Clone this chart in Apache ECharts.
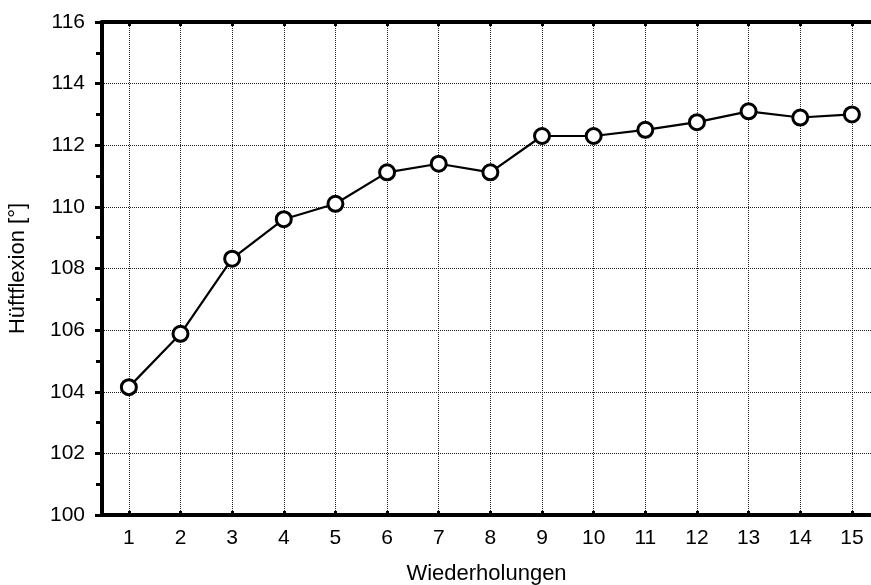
<!DOCTYPE html>
<html>
<head>
<meta charset="utf-8">
<script src="https://cdn.jsdelivr.net/npm/echarts@6/dist/echarts.min.js"></script>
<style>
  html, body { margin: 0; padding: 0; background: #fff; }
  #chart { width: 871px; height: 585px; }
</style>
</head>
<body>
<div id="chart"></div>
<script>
// data
const repetitions = [1, 2, 3, 4, 5, 6, 7, 8, 9, 10, 11, 12, 13, 14, 15];
const hipFlexion = [104.15, 105.88, 108.32, 109.6, 110.1, 111.12, 111.4, 111.12, 112.3, 112.3, 112.5, 112.75, 113.1, 112.9, 113.0];
const yTicks = [100, 102, 104, 106, 108, 110, 112, 114, 116];

const chart = echarts.init(document.getElementById('chart'));
const font = 'Liberation Sans, Arial, sans-serif';

const seriesData = repetitions.map((r, i) => [r, hipFlexion[i]]);

const option = {
  animation: false,
  grid: { left: 102, top: 22, right: 0, bottom: 70, outerBoundsMode: 'none' },
  xAxis: [
    {
      type: 'value',
      min: 0.48,
      max: 15.37,
      position: 'bottom',
      name: 'Wiederholungen',
      nameLocation: 'middle',
      nameGap: 48,
      nameTextStyle: { color: '#000', fontSize: 22, fontFamily: font },
      axisLine: { show: true, lineStyle: { color: '#000', width: 4 } },
      axisTick: { show: true, inside: true, length: 4, lineStyle: { color: '#000', width: 3 },
        customValues: repetitions },
      axisLabel: { color: '#000', fontSize: 21, fontFamily: font, margin: 13,
        customValues: repetitions },
      splitLine: { show: true, lineStyle: { color: '#222', type: [1, 1], width: 1 } },
      minorTick: { show: false }
    },
    {
      type: 'value',
      min: 0.48,
      max: 15.37,
      position: 'top',
      axisLine: { show: true, lineStyle: { color: '#000', width: 4 } },
      axisTick: { show: true, inside: true, length: 4, lineStyle: { color: '#000', width: 3 },
        customValues: repetitions },
      axisLabel: { show: false },
      splitLine: { show: false }
    }
  ],
  yAxis: {
    type: 'value',
    min: 100,
    max: 116,
    interval: 2,
    name: 'Hüftflexion [°]',
    nameLocation: 'middle',
    nameGap: 73,
    nameTextStyle: { color: '#000', fontSize: 22, fontFamily: font },
    axisLine: { show: true, lineStyle: { color: '#000', width: 4 } },
    axisTick: { show: true, length: 7, lineStyle: { color: '#000', width: 3 } },
    minorTick: { show: true, splitNumber: 2, length: 6, lineStyle: { color: '#000', width: 3 } },
    axisLabel: { color: '#000', fontSize: 21, fontFamily: font, margin: 17,
      formatter: v => yTicks.includes(v) ? String(v) : '' },
    splitLine: { show: true, lineStyle: { color: '#222', type: [1, 1], width: 1 } }
  },
  series: [
    {
      type: 'line',
      data: seriesData,
      symbol: 'circle',
      symbolSize: 15,
      itemStyle: { color: '#fff', borderColor: '#000', borderWidth: 3 },
      lineStyle: { color: '#000', width: 2.2 },
      clip: false,
      z: 5
    }
  ]
};

chart.setOption(option);
</script>
</body>
</html>
